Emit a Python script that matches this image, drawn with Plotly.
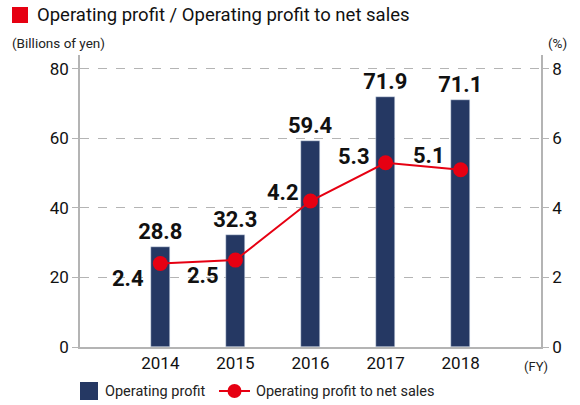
import plotly.graph_objects as go

years = ["2014", "2015", "2016", "2017", "2018"]
profit = [28.8, 32.3, 59.4, 71.9, 71.1]
profit_labels = ["28.8", "32.3", "59.4", "71.9", "71.1"]
ratio = [2.4, 2.5, 4.2, 5.3, 5.1]
ratio_labels = ["2.4", "2.5", "4.2", "5.3", "5.1"]
left_ticks = [0, 20, 40, 60, 80]
right_ticks = [0, 2, 4, 6, 8]

NAVY = "#253863"
RED = "#e60012"
GRID = "#b4b4b4"
FONT = "Roboto"

PW, PH = 461, 292  # plot area size in pixels
xs = list(range(len(years)))

fig = go.Figure()
fig.add_trace(go.Bar(
    x=xs, y=profit, width=0.25, marker_color=NAVY, name="Operating profit",
    text=[f"<b>{t}</b>" for t in profit_labels], textposition="outside",
    constraintext="none",
    textfont=dict(family=FONT, size=22, color="#111111"),
    cliponaxis=False, showlegend=False,
))
fig.add_trace(go.Scatter(
    x=xs, y=ratio, yaxis="y2", mode="lines+markers",
    line=dict(color=RED, width=2), marker=dict(color=RED, size=15),
    showlegend=False, cliponaxis=False,
))

# label offsets for ratio values (pixels)
offsets = [(-14, -15), (-14, -15), (-10, 9), (-14, 6), (-14, 14)]
for i, (v, lab) in enumerate(zip(ratio, ratio_labels)):
    dx, dy = offsets[i]
    fig.add_annotation(x=xs[i], y=v, yref="y2", text=f"<b>{lab}</b>", showarrow=False,
                       xanchor="right", yanchor="middle", xshift=dx, yshift=dy,
                       font=dict(family=FONT, size=22, color="#111111"))

def px(x):
    return (x - 80) / PW

def py(y):
    return (347 - y) / PH

# Title with red square
fig.add_shape(type="rect", xref="paper", yref="paper", x0=px(12), x1=px(28),
              y0=py(23), y1=py(7), fillcolor=RED, line_width=0)
fig.add_annotation(xref="paper", yref="paper", x=px(35), y=py(15),
                   text="Operating profit / Operating profit to net sales", showarrow=False,
                   xanchor="left", yanchor="middle",
                   font=dict(family=FONT, size=18.5, color="#111111"))
fig.add_annotation(xref="paper", yref="paper", x=px(10), y=py(43),
                   text="(Billions of yen)", showarrow=False, xanchor="left", yanchor="middle",
                   font=dict(family=FONT, size=13.5, color="#222222"))
fig.add_annotation(xref="paper", yref="paper", x=px(557), y=py(43),
                   text="(%)", showarrow=False, xanchor="center", yanchor="middle",
                   font=dict(family=FONT, size=13.5, color="#222222"))
fig.add_annotation(xref="paper", yref="paper", x=px(536), y=py(366),
                   text="(FY)", showarrow=False, xanchor="center", yanchor="middle",
                   font=dict(family=FONT, size=13, color="#222222"))

# Legend drawn manually
ly = 391
fig.add_shape(type="rect", xref="paper", yref="paper", x0=px(80), x1=px(98),
              y0=py(ly + 9), y1=py(ly - 9), fillcolor=NAVY, line_width=0)
fig.add_annotation(xref="paper", yref="paper", x=px(103), y=py(ly), text="Operating profit",
                   showarrow=False, xanchor="left", yanchor="middle",
                   font=dict(family=FONT, size=14.5, color="#222222"))
fig.add_shape(type="line", xref="paper", yref="paper", x0=px(219), x1=px(250),
              y0=py(ly), y1=py(ly), line=dict(color=RED, width=2))
fig.add_shape(type="circle", xref="paper", yref="paper", x0=px(227.5), x1=px(241.5),
              y0=py(ly + 7), y1=py(ly - 7), fillcolor=RED, line_width=0)
fig.add_annotation(xref="paper", yref="paper", x=px(254), y=py(ly),
                   text="Operating profit to net sales",
                   showarrow=False, xanchor="left", yanchor="middle",
                   font=dict(family=FONT, size=14.5, color="#222222"))

fig.update_layout(
    width=580, height=405,
    margin=dict(l=80, r=39, t=55, b=58),
    paper_bgcolor="white", plot_bgcolor="white",
    font=dict(family=FONT, color="#111111"),
    xaxis=dict(range=[-1.07, 5.07], tickvals=xs, ticktext=years, showgrid=False,
               showline=True, linecolor=GRID, linewidth=1.5, ticks="",
               tickfont=dict(family=FONT, size=17, color="#111111"), zeroline=False),
    yaxis=dict(range=[0, 84], tickvals=left_ticks, showgrid=True, gridcolor=GRID,
               griddash="dash", gridwidth=1, showline=True, linecolor=GRID, linewidth=1.5,
               ticks="outside", ticklen=6, tickcolor=GRID, zeroline=False,
               tickfont=dict(family=FONT, size=17, color="#111111")),
    yaxis2=dict(range=[0, 8.4], tickvals=right_ticks, overlaying="y", side="right",
                showgrid=False, showline=True, linecolor=GRID, linewidth=1.5,
                ticks="outside", ticklen=6, tickcolor=GRID, zeroline=False,
                tickfont=dict(family=FONT, size=17, color="#111111")),
    bargap=0,
)

fig.write_html("out.html", config={"displayModeBar": False},
               post_script="document.body.style.margin='0';")
